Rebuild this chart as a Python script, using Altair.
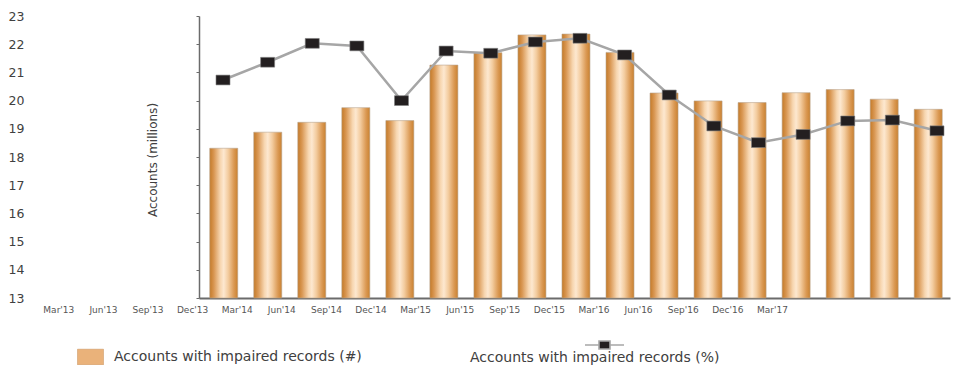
import altair as alt
import pandas as pd

# ---- data ----
bar_values = [18.31, 18.88, 19.23, 19.75, 19.29, 21.26, 21.70, 22.33, 22.36,
              21.71, 20.27, 19.99, 19.93, 20.28, 20.39, 20.05, 19.69]
pct_values = [20.73, 21.36, 22.03, 21.94, 20.00, 21.76, 21.68, 22.08, 22.21,
              21.62, 20.20, 19.10, 18.51, 18.80, 19.28, 19.31, 18.93]
x_labels = ["Mar'13", "Jun'13", "Sep'13", "Dec'13", "Mar'14", "Jun'14", "Sep'14",
            "Dec'14", "Mar'15", "Jun'15", "Sep'15", "Dec'15", "Mar'16", "Jun'16",
            "Sep'16", "Dec'16", "Mar'17"]
y_ticks = list(range(13, 24))
series_bar = "Accounts with impaired records (#)"
series_line = "Accounts with impaired records (%)"
y_title = "Accounts (millions)"

df = pd.DataFrame({
    "idx": list(range(len(bar_values))),
    "bar": bar_values,
    "pct": pct_values,
    "label": x_labels,
})
leg_df = pd.DataFrame({"s1": [series_bar], "s2": [series_line]})

FONT = "DejaVu Sans"
TXT = "#404040"
AX = "#6b6b6b"

stops = [("#c47a28", 0.0), ("#d99753", 0.15), ("#f7d6b0", 0.38), ("#fde8d0", 0.5),
         ("#f3cc9f", 0.66), ("#db9a55", 0.86), ("#c98130", 1.0)]
grad = alt.Gradient(gradient="linear", x1=0, x2=1, y1=0, y2=0,
                    stops=[alt.GradientStop(color=c, offset=o) for c, o in stops])

x_scale = alt.Scale(domain=[-0.4482, 16.381], nice=False, zero=False)
y_scale = alt.Scale(domain=[13, 23], nice=False, zero=False)

y_axis = alt.Axis(values=y_ticks, labelPadding=172, tickSize=3, tickColor=AX,
                  domainColor=AX, domainWidth=1.5, grid=False,
                  labelFont=FONT, labelFontSize=12.5, labelColor=TXT,
                  title=y_title, titleX=-46.5, titleY=143.5, titleAngle=270,
                  titleAlign="center", titleBaseline="middle", titleFont=FONT,
                  titleFontSize=12, titleFontWeight="normal", titleColor=TXT,
                  orient="left")

base = alt.Chart(df)

bars = base.mark_bar(fill=grad, stroke="#b9a58e", strokeWidth=0.6, size=28).encode(
    x=alt.X("idx:Q", scale=x_scale,
            axis=alt.Axis(labels=False, ticks=False, domain=True, domainColor=AX,
                          domainWidth=2, grid=False, title=None, orient="bottom")),
    y=alt.Y("bar:Q", scale=y_scale, axis=y_axis, title=y_title),
    y2=alt.datum(13),
)

line = base.mark_line(color="#a6a6a6", strokeWidth=2.5, xOffset=4).encode(
    x=alt.X("idx:Q", scale=x_scale, axis=None),
    y=alt.Y("pct:Q", scale=y_scale, axis=y_axis, title=y_title),
)

square = "M-1,-0.7H1V0.7H-1Z"
points = base.mark_point(shape=square, size=196, filled=True, fill="#231f20",
                         stroke="#808080", strokeWidth=0.6, opacity=1, xOffset=4).encode(
    x=alt.X("idx:Q", scale=x_scale, axis=None),
    y=alt.Y("pct:Q", scale=y_scale, axis=y_axis, title=y_title),
)

xlabels = base.mark_point(opacity=0).encode(
    x=alt.X("label:N", sort=x_labels,
            scale=alt.Scale(type="point", domain=x_labels, range=[-140.7, 572.9], padding=0),
            axis=alt.Axis(orient="bottom", labelAngle=0, ticks=False, domain=False,
                          grid=False, labelPadding=7, labelOverlap=False,
                          labelFont=FONT, labelFontSize=9, labelColor="#555555",
                          title=None)),
)

leg1 = alt.Chart(leg_df).mark_square().encode(
    fill=alt.Fill("s1:N", scale=alt.Scale(domain=[series_bar], range=["#eab27a"]),
                  legend=alt.Legend(orient="none", legendX=-122, legendY=327.5,
                                    title=None, padding=0,
                                    symbolType="M-1,-0.6H1V0.6H-1Z", symbolSize=676,
                                    symbolStrokeColor="#c7915a", symbolStrokeWidth=0.5,
                                    symbolOpacity=1,
                                    labelOffset=10, labelFont=FONT, labelFontSize=14,
                                    labelColor=TXT, labelLimit=0)),
).transform_filter("false")

leg2 = alt.Chart(leg_df).mark_line().encode(
    stroke=alt.Stroke("s2:N", scale=alt.Scale(domain=[series_line], range=["#a6a6a6"]),
                      legend=alt.Legend(orient="none", legendX=271, legendY=323,
                                        padding=0, title=series_line,
                                        titleOrient="bottom", titleAnchor="start",
                                        titlePadding=-1, titleFont=FONT, titleFontSize=14,
                                        titleFontWeight="normal", titleColor=TXT,
                                        titleLimit=0,
                                        symbolType="M-3.9,0H-1.1M1.1,0H3.9M-1.1,-0.8H1.1V0.8H-1.1Z",
                                        symbolSize=100, symbolOffset=128.5,
                                        symbolFillColor="#231f20",
                                        symbolStrokeColor="#a6a6a6",
                                        symbolStrokeWidth=1.6, symbolOpacity=1,
                                        labelExpr="''", labelOffset=0, labelFontSize=1)),
).transform_filter("false")

chart = alt.layer(bars, line, points, xlabels, leg1, leg2).resolve_scale(
    x="independent"
).properties(
    width=751, height=282,
    autosize=alt.AutoSizeParams(type="none"),
    padding={"left": 199, "top": 16, "right": 3, "bottom": 67},
).configure_view(stroke=None)

chart.save("out.html", embed_options={"renderer": "svg", "actions": False})
